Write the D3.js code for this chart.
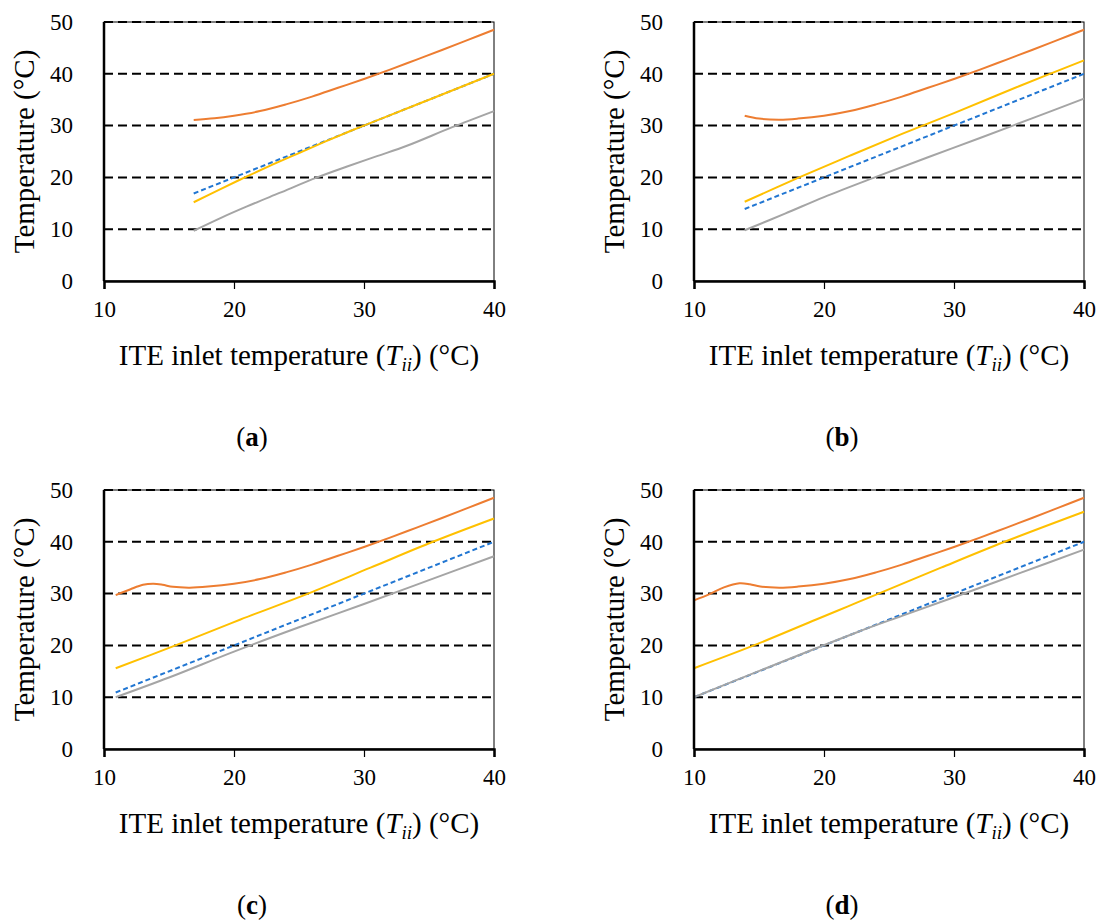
<!DOCTYPE html>
<html>
<head>
<meta charset="utf-8">
<script src="https://cdn.jsdelivr.net/npm/d3@7"></script>
<style>
  body { margin: 0; background: #fff; }
  svg { display: block; }
  text { font-family: "Liberation Serif", "Times New Roman", serif; fill: #000; }
</style>
</head>
<body>
<svg id="chart" width="1096" height="920"></svg>
<script>
// axis ticks
var xTicks = [10, 20, 30, 40];
var yTicks = [0, 10, 20, 30, 40, 50];
var gridTicks = [10, 20, 30, 40, 50];
var panelNames = ["a", "b", "c", "d"];

// panel (a)
var orangeA = [[16.9, 31.1], [18.5, 31.4], [20, 31.9], [22, 32.8], [24, 34.1], [26, 35.6], [28, 37.3], [30, 39.0], [32, 40.8], [34, 42.7], [36, 44.6], [38, 46.55], [40, 48.5]];
var yellowA = [[16.9, 15.2], [19, 17.8], [21, 20.2], [23, 22.5], [25, 24.7], [27, 26.9], [29, 29.0], [31, 31], [35, 35], [40, 40]];
var blueA = [[16.9, 16.9], [40, 40]];
var grayA = [[16.9, 9.7], [19, 12.2], [21, 14.4], [23.5, 17.0], [26.4, 20], [28.7, 22.1], [31, 24.1], [33.3, 26.1], [36.7, 29.6], [40, 32.8]];

// panel (b)
var orangeB = [[13.9, 31.9], [15, 31.35], [16.6, 31.15], [18, 31.35], [20, 31.9], [22, 32.8], [24, 34.1], [26, 35.6], [28, 37.3], [30, 39.0], [32, 40.8], [34, 42.7], [36, 44.6], [38, 46.55], [40, 48.5]];
var yellowB = [[13.9, 15.3], [18, 19.9], [22, 24.2], [26, 28.4], [30, 32.4], [35, 37.6], [40, 42.6]];
var blueB = [[13.9, 13.9], [40, 40]];
var grayB = [[13.9, 9.8], [17, 13.0], [20, 16.2], [24, 20.1], [28, 23.9], [32, 27.6], [36, 31.4], [40, 35.2]];

// panel (c)
var orangeC = [[10.9, 29.7], [12, 30.8], [13, 31.7], [13.8, 31.9], [14.5, 31.7], [15.3, 31.3], [16.6, 31.15], [18, 31.35], [20, 31.9], [22, 32.8], [24, 34.1], [26, 35.6], [28, 37.3], [30, 39.0], [32, 40.8], [34, 42.7], [36, 44.6], [38, 46.55], [40, 48.5]];
var yellowC = [[10.9, 15.6], [15.5, 20], [20.5, 25], [25.7, 30], [30.5, 35], [35.3, 40], [40, 44.5]];
var blueC = [[10.9, 10.9], [40, 40]];
var grayC = [[10.9, 10], [15, 13.8], [20, 18.8], [25, 23.5], [30, 28.0], [35, 32.6], [40, 37.2]];

// panel (d)
var orangeD = [[10, 28.7], [11.2, 29.9], [12.3, 31.2], [13.5, 32.0], [14.3, 31.8], [15.1, 31.35], [16.6, 31.15], [18, 31.35], [20, 31.9], [22, 32.8], [24, 34.1], [26, 35.6], [28, 37.3], [30, 39.0], [32, 40.8], [34, 42.7], [36, 44.6], [38, 46.55], [40, 48.5]];
var yellowD = [[10, 15.6], [14.6, 20], [19.4, 25], [21.8, 27.5], [24.2, 30], [29, 35], [33.9, 40], [40, 45.8]];
var blueD = [[10, 10], [40, 40]];
var grayD = [[10, 10], [22.5, 22.5], [26, 25.7], [30, 29.3], [35, 33.9], [40, 38.5]];

var colors = { orange: "#ED7D31", yellow: "#FFC000", blue: "#2176D2", gray: "#A5A5A5" };
var serif = "'Liberation Serif', 'Times New Roman', serif";

var svg = d3.select("#chart");

var layout = [
    { left: 104, top: 22, caption: 252 },
    { left: 694, top: 22, caption: 842 },
    { left: 104, top: 490, caption: 252 },
    { left: 694, top: 490, caption: 842 }
];
var seriesSets = [
    [blueA, grayA, yellowA, orangeA],
    [blueB, grayB, yellowB, orangeB],
    [blueC, grayC, yellowC, orangeC],
    [blueD, grayD, yellowD, orangeD]
];
var seriesColors = [colors.blue, colors.gray, colors.yellow, colors.orange];
var pw = 390, ph = 259;

layout.forEach(function (p, i) {
    var x = d3.scaleLinear().domain([10, 40]).range([p.left, p.left + pw]);
    var y = d3.scaleLinear().domain([0, 50]).range([p.top + ph, p.top]);
    var g = svg.append("g");

    // plot border
    g.append("rect")
        .attr("x", x(10)).attr("y", y(50))
        .attr("width", pw).attr("height", ph)
        .attr("fill", "none").attr("stroke", "#000").attr("stroke-width", 1);

    // dashed gridlines
    g.selectAll("line.grid").data(gridTicks).enter().append("line")
        .attr("class", "grid")
        .attr("x1", x(10)).attr("x2", x(40))
        .attr("y1", function (d) { return y(d); })
        .attr("y2", function (d) { return y(d); })
        .attr("stroke", "#000").attr("stroke-width", 2)
        .attr("stroke-dasharray", "9,5");

    // curves
    var line = d3.line()
        .x(function (d) { return x(d[0]); })
        .y(function (d) { return y(d[1]); })
        .curve(d3.curveCatmullRom.alpha(0.5));
    seriesSets[i].forEach(function (s, si) {
        g.append("path")
            .attr("d", line(s))
            .attr("fill", "none")
            .attr("stroke", seriesColors[si])
            .attr("stroke-width", 2)
            .attr("stroke-dasharray", si === 0 ? "5,3" : null);
    });

    // left and bottom axis lines
    g.append("line")
        .attr("x1", x(10)).attr("x2", x(10))
        .attr("y1", y(50)).attr("y2", y(0))
        .attr("stroke", "#000").attr("stroke-width", 2.5);
    var xAxis = d3.axisBottom(x).tickValues(xTicks).tickSize(8).tickPadding(12).tickFormat(d3.format("d"));
    var ax = g.append("g").attr("transform", "translate(0," + y(0) + ")").call(xAxis);
    ax.select(".domain").attr("stroke", "#000").attr("stroke-width", 2.5);
    ax.selectAll(".tick line").attr("stroke", "#000").attr("stroke-width", 1.2);
    ax.selectAll(".tick text").style("font-size", "23px").style("font-family", serif);

    var yAxis = d3.axisLeft(y).tickValues(yTicks).tickSize(0).tickPadding(31).tickFormat(d3.format("d"));
    var ay = g.append("g").attr("transform", "translate(" + x(10) + ",0)").call(yAxis);
    ay.select(".domain").remove();
    ay.selectAll(".tick text").style("font-size", "23px").style("font-family", serif);

    // y axis title
    g.append("text")
        .attr("transform", "translate(" + (p.left - 70) + "," + (p.top + ph / 2) + ") rotate(-90)")
        .attr("text-anchor", "middle")
        .style("font-size", "29px")
        .text("Temperature (°C)");

    // x axis title
    var xt = g.append("text")
        .attr("x", p.left + pw / 2).attr("y", p.top + ph + 84)
        .attr("text-anchor", "middle")
        .style("font-size", "29px");
    xt.append("tspan").text("ITE inlet temperature (");
    xt.append("tspan").attr("font-style", "italic").text("T");
    xt.append("tspan").attr("font-style", "italic").style("font-size", "19px").attr("dy", 6).text("ii");
    xt.append("tspan").attr("dy", -6).text(") (°C)");

    // caption
    var cap = g.append("text")
        .attr("x", p.caption).attr("y", p.top + ph + 165)
        .attr("text-anchor", "middle")
        .style("font-size", "27px");
    cap.append("tspan").text("(");
    cap.append("tspan").attr("font-weight", "bold").text(panelNames[i]);
    cap.append("tspan").text(")");
});
</script>
</body>
</html>
